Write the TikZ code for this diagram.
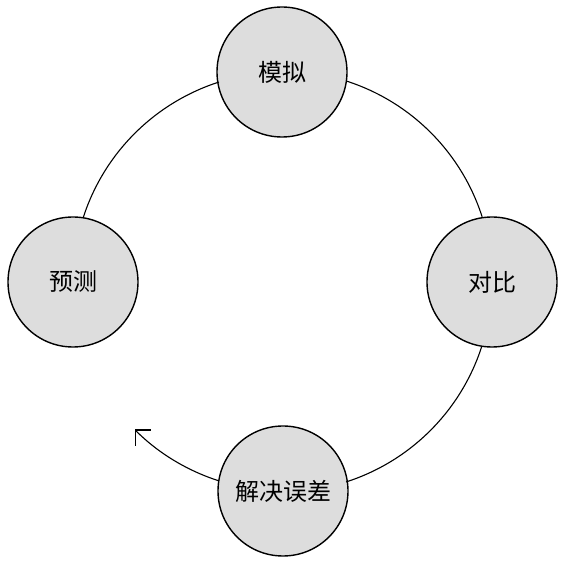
\documentclass[tikz,border=0pt]{standalone}
\usepackage{fontspec}
\newfontfamily\cjk{Noto Sans CJK SC}
\usetikzlibrary{arrows.meta}
\definecolor{nodefill}{RGB}{221,221,221}
\tikzset{
  phase/.style={circle, draw=black, line width=1.4pt, fill=nodefill,
    minimum size=130pt, inner sep=0pt, outer sep=0pt,
    font=\cjk\fontsize{24pt}{24pt}\selectfont},
  link/.style={draw=black, line width=1.1pt},
}
\begin{document}
\begin{tikzpicture}[x=1pt,y=1pt]
\useasboundingbox (0,0) rectangle (566,563);
\coordinate (c) at (282,281);
\node[phase] (top) at (282,491) {模拟};
\node[phase] (right) at (492,281) {对比};
\node[phase] (bot) at (283,72) {解决误差};
\node[phase] (left) at (73,281) {预测};
\draw[link] (left.81.1) arc[start angle=162.2, end angle=107.8, radius=210];
\draw[link] (top.-8.9) arc[start angle=72.2, end angle=17.8, radius=210];
\draw[link] (right.261.1) arc[start angle=-17.8, end angle=-72.2, radius=210];
\draw[link, -{Straight Barb[length=11pt,width=22pt,line width=1.6pt]}] (bot.171.1) arc[start angle=252.2, end angle=225, radius=210] coordinate (tip);
\end{tikzpicture}
\end{document}
